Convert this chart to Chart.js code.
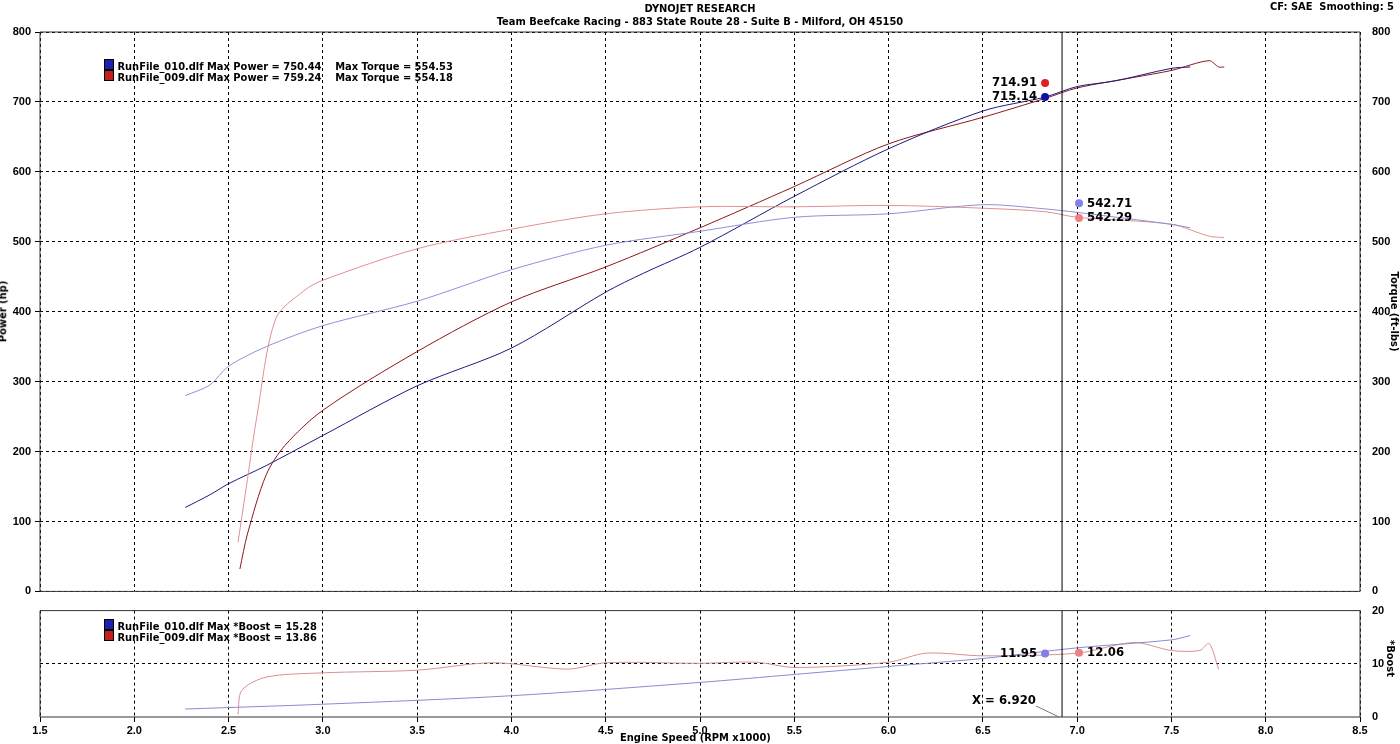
<!DOCTYPE html>
<html><head><meta charset="utf-8">
<script src="https://cdn.jsdelivr.net/npm/chart.js@4"></script>
<style>
body{margin:0;background:#fff;font-family:Tahoma,"DejaVu Sans",sans-serif;}
.w{position:absolute;left:0;width:1400px}
.t{position:absolute;font-size:11px;font-weight:bold;color:#000;white-space:nowrap;font-family:"DejaVu Sans Condensed","DejaVu Sans",sans-serif}
</style></head><body>
<div class="w" style="top:0;height:602px"><canvas id="c1"></canvas></div>
<div class="w" style="top:600px;height:144px"><canvas id="c2"></canvas></div>
<div class="t" style="left:0;width:1400px;text-align:center;top:2px">DYNOJET RESEARCH</div>
<div class="t" style="left:0;width:1400px;text-align:center;top:15px">Team Beefcake Racing - 883 State Route 28 - Suite B - Milford, OH 45150</div>
<div class="t" style="right:6px;top:0px">CF: SAE&nbsp; Smoothing: 5</div>
<div class="t" style="left:620px;top:731px">Engine Speed (RPM x1000)</div>
<div class="t" style="left:-28px;top:305px;transform:rotate(-90deg)">Power (hp)</div>
<div class="t" style="left:1355px;top:305px;transform:rotate(90deg)">Torque (ft-lbs)</div>
<div class="t" style="left:1372px;top:652px;transform:rotate(90deg)">*Boost</div>
<div class="t" style="left:104px;top:59px"><span style="display:inline-block;width:8px;height:9px;background:#2020b0;border:1px solid #000"></span> RunFile_010.dlf Max Power = 750.44 &nbsp;&nbsp; Max Torque = 554.53</div>
<div class="t" style="left:104px;top:70px"><span style="display:inline-block;width:8px;height:9px;background:#c02020;border:1px solid #000"></span> RunFile_009.dlf Max Power = 759.24 &nbsp;&nbsp; Max Torque = 554.18</div>
<div class="t" style="left:104px;top:619px"><span style="display:inline-block;width:8px;height:9px;background:#2020b0;border:1px solid #000"></span> RunFile_010.dlf Max *Boost = 15.28</div>
<div class="t" style="left:104px;top:630px"><span style="display:inline-block;width:8px;height:9px;background:#c02020;border:1px solid #000"></span> RunFile_009.dlf Max *Boost = 13.86</div>
<script>
const rpm010Power=[2.27,2.4,2.5,2.7,3.0,3.5,4.0,4.5,4.7,5.0,5.5,6.0,6.5,6.83,7.0,7.2,7.5,7.6];
const power010=[120,138,154,180,223,294,348,428,455,492,565,633,687,707,722,730,748,750];
const rpm009Power=[2.56,2.6,2.7,2.8,3.0,3.5,4.0,4.5,5.0,5.5,6.0,6.5,6.83,7.0,7.3,7.5,7.7,7.75,7.78];
const power009=[32,82,167,209,259,343,414,464,520,579,640,678,705,720,735,745,759,750,750];
const rpm010Torque=[2.27,2.4,2.5,2.7,3.0,3.5,4.0,4.5,5.0,5.5,6.0,6.5,6.83,7.0,7.5,7.6];
const torque010=[280,295,322,350,380,415,460,495,515,535,540,553,547,542,525,520];
const rpm009Torque=[2.55,2.6,2.65,2.75,2.9,3.0,3.5,4.0,4.5,5.0,5.5,6.0,6.5,6.83,7.0,7.5,7.7,7.78];
const torque009=[70,160,250,390,430,445,490,518,540,550,550,552,548,543,535,525,508,506];
const rpm010Boost=[2.27,3.0,4.0,5.0,5.5,6.0,6.5,7.0,7.5,7.6];
const boost010=[1.5,2.4,4.0,6.5,8.0,9.5,11.0,13.0,14.5,15.3];
const rpm009Boost=[2.55,2.57,2.7,3.0,3.5,3.9,4.3,4.5,5.0,5.3,5.5,6.0,6.2,6.5,7.0,7.3,7.5,7.65,7.7,7.75];
const boost009=[0.5,5,7.5,8.3,8.8,10.2,9.0,10.2,10.1,10.3,9.3,10.3,12,11.5,12.0,14,12.5,12.5,13.8,9];
const cursorRpm=6.92;
const cursorLabel='X = 6.920';
const topMarkers=[{x:6.83,y:707,c:'#1010a0',t:'715.14'},{x:6.83,y:727,c:'#e02020',t:'714.91'},{x:7.01,y:555,c:'#8080e8',t:'542.71',r:1},{x:7.01,y:534,c:'#f08080',t:'542.29',r:1}];
const botMarkers=[{x:6.83,y:11.95,c:'#8080e8',t:'11.95'},{x:7.01,y:12.06,c:'#f08080',t:'12.06',r:1}];
const pts=(a,b)=>a.map((x,i)=>({x,y:b[i]}));
const fix=w=>s=>{s.width=w};
const fixH=h=>s=>{s.height=h};
const grid={color:'#000',lineWidth:1,tickLength:0};
const dash=[3,3];
const ln=(d,c,ax)=>({data:d,borderColor:c,borderWidth:1,pointRadius:0,showLine:true,tension:0.3,yAxisID:ax||'y'});
const cursorPlugin=(lbl)=>({id:'cur',afterDraw(ch){const x=ch.scales.x.getPixelForValue(cursorRpm);const a=ch.chartArea;const g=ch.ctx;g.save();g.strokeStyle='#000';g.lineWidth=1;g.beginPath();g.moveTo(x,a.top);g.lineTo(x,a.bottom);g.stroke();
 g.strokeStyle='#333';g.lineWidth=1;g.beginPath();g.rect(a.left,a.top,a.right-a.left,a.bottom-a.top);g.stroke();
 g.font='bold 13px "DejaVu Sans Condensed","DejaVu Sans"';g.textBaseline='middle';
 const ms=ch.options.plugins.mk;ms.forEach(m=>{const px=ch.scales.x.getPixelForValue(m.x),py=ch.scales.y.getPixelForValue(m.y);g.fillStyle=m.c;g.beginPath();g.arc(px,py,4,0,7);g.fill();g.fillStyle='#000';
  if(m.r){g.textAlign='left';g.fillText(m.t,px+8,py);}else{g.textAlign='right';g.fillText(m.t,px-8,py);}});
 if(lbl){g.textAlign='left';g.fillStyle='#000';g.fillText(cursorLabel,972,101);g.strokeStyle='#777';g.beginPath();g.moveTo(1036,106);g.lineTo(x-3,a.bottom);g.stroke();}
 g.restore();}});
new Chart(document.getElementById('c1'),{type:'scatter',
data:{datasets:[ln(pts(rpm010Torque,torque010),'#9090d8'),ln(pts(rpm009Torque,torque009),'#e09090'),ln(pts(rpm010Power,power010),'#1a1a80'),ln(pts(rpm009Power,power009),'#8c1818')]},
options:{animation:false,responsive:true,maintainAspectRatio:false,layout:{padding:{top:32,bottom:4,left:0,right:0}},
plugins:{legend:{display:false},tooltip:{enabled:false},mk:topMarkers},
scales:{x:{type:'linear',min:1.5,max:8.5,afterFit:fixH(0),ticks:{display:false,stepSize:0.5},grid:{...grid,drawTicks:false},border:{display:false,dash:dash}},
y:{min:0,max:800,afterFit:fix(40),ticks:{stepSize:100,color:'#000',font:{size:11,weight:'bold'},padding:4},grid:{...grid,drawTicks:true,tickLength:5},border:{dash:dash,display:false}},
y2:{position:'right',min:0,max:800,afterFit:fix(40),ticks:{stepSize:100,color:'#000',font:{size:11,weight:'bold'},padding:4},grid:{display:false}}}},
plugins:[cursorPlugin(false)]});
new Chart(document.getElementById('c2'),{type:'scatter',
data:{datasets:[ln(pts(rpm010Boost,boost010),'#8a8ad0'),ln(pts(rpm009Boost,boost009),'#d89090')]},
options:{animation:false,responsive:true,maintainAspectRatio:false,layout:{padding:{top:7,bottom:0,left:0,right:0}},
plugins:{legend:{display:false},tooltip:{enabled:false},mk:botMarkers},
scales:{x:{type:'linear',min:1.5,max:8.5,afterFit:fixH(27),ticks:{stepSize:0.5,color:'#000',font:{size:11,weight:'bold'},callback:v=>v.toFixed(1),padding:2},grid:{...grid,drawTicks:true,tickLength:5},border:{display:false,dash:dash}},
y:{min:0,max:20,afterFit:fix(40),ticks:{display:false,stepSize:10},grid:{...grid,color:c=>c.tick.value===10?'#000':'rgba(0,0,0,0)'},border:{dash:dash,display:false}},
y2:{position:'right',min:0,max:20,afterFit:fix(40),ticks:{stepSize:10,color:'#000',font:{size:11,weight:'bold'},padding:4},grid:{display:false}}}},
plugins:[cursorPlugin(true)]});
</script></body></html>
